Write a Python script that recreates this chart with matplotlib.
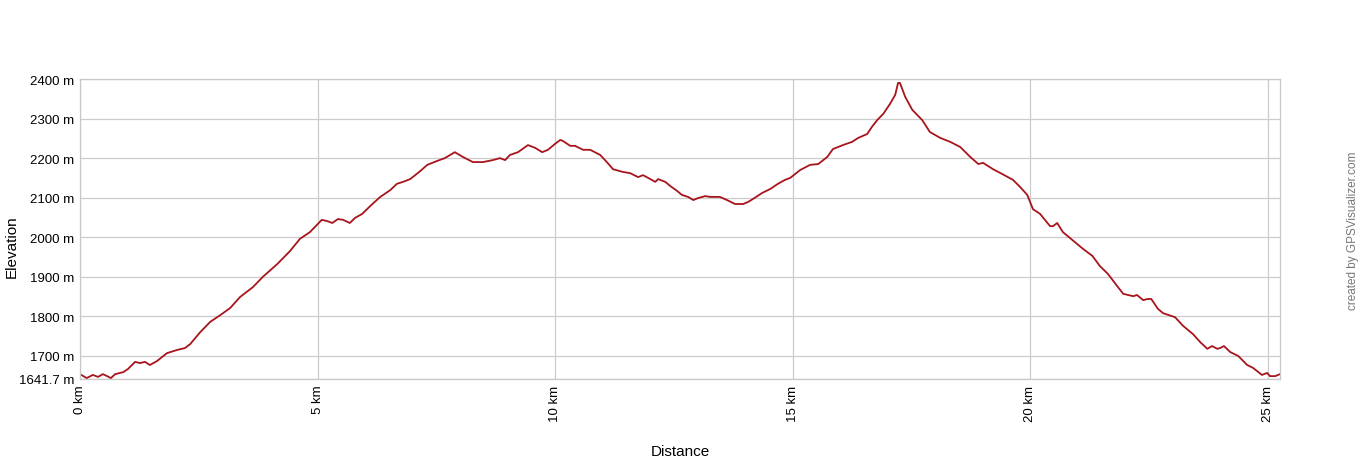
import matplotlib
matplotlib.use("Agg")
import matplotlib.pyplot as plt

# Elevation profile (distance in km, elevation in m)
distance_km = [
    0.00, 0.14, 0.27, 0.38, 0.48, 0.57, 0.65, 0.74, 0.91, 1.01,
    1.16, 1.26, 1.37, 1.47, 1.62, 1.83, 2.04, 2.21, 2.32, 2.53,
    2.74, 2.95, 3.16, 3.37, 3.64, 3.85, 4.15, 4.42, 4.63, 4.84,
    5.09, 5.20, 5.31, 5.43, 5.54, 5.68, 5.79, 5.94, 6.11, 6.32,
    6.53, 6.67, 6.80, 6.95, 7.16, 7.31, 7.52, 7.68, 7.89, 8.06,
    8.27, 8.48, 8.69, 8.84, 8.95, 9.05, 9.22, 9.43, 9.58, 9.73,
    9.85, 10.00, 10.11, 10.17, 10.32, 10.42, 10.59, 10.74, 10.95, 11.09,
    11.22, 11.43, 11.58, 11.75, 11.85, 11.96, 12.11, 12.17, 12.32, 12.42,
    12.57, 12.67, 12.80, 12.91, 13.01, 13.16, 13.26, 13.47, 13.62, 13.79,
    13.96, 14.06, 14.17, 14.36, 14.53, 14.69, 14.84, 14.95, 15.16, 15.37,
    15.54, 15.73, 15.85, 16.06, 16.25, 16.38, 16.57, 16.67, 16.78, 16.91,
    17.05, 17.16, 17.22, 17.26, 17.37, 17.52, 17.73, 17.89, 18.11, 18.32,
    18.53, 18.74, 18.91, 19.01, 19.22, 19.41, 19.64, 19.79, 19.94, 20.06,
    20.21, 20.42, 20.48, 20.57, 20.69, 20.91, 21.12, 21.31, 21.47, 21.64,
    21.83, 21.96, 22.17, 22.25, 22.38, 22.48, 22.55, 22.69, 22.80, 23.05,
    23.22, 23.43, 23.58, 23.73, 23.83, 23.94, 24.00, 24.08, 24.21, 24.38,
    24.57, 24.69, 24.88, 24.99, 25.05, 25.16, 25.26,
]
elevation_m = [
    1654, 1644, 1652, 1647, 1654, 1649, 1644, 1654, 1659, 1667,
    1685, 1682, 1685, 1677, 1687, 1707, 1715, 1720, 1730, 1760,
    1786, 1803, 1821, 1849, 1874, 1900, 1932, 1965, 1996, 2013,
    2044, 2041, 2036, 2046, 2044, 2036, 2049, 2059, 2079, 2102,
    2119, 2135, 2140, 2147, 2167, 2183, 2193, 2200, 2215, 2203,
    2190, 2190, 2195, 2200, 2195, 2208, 2215, 2233, 2226, 2215,
    2221, 2236, 2246, 2243, 2231, 2231, 2221, 2221, 2208, 2190,
    2172, 2165, 2162, 2152, 2157, 2150, 2140, 2147, 2140, 2130,
    2117, 2107, 2102, 2094, 2099, 2104, 2102, 2102, 2094, 2084,
    2084, 2089, 2097, 2112, 2122, 2135, 2145, 2150, 2170, 2183,
    2185, 2203, 2223, 2233, 2241, 2251, 2261, 2279, 2296, 2312,
    2337, 2360, 2390, 2390, 2355, 2322, 2296, 2266, 2251, 2241,
    2228, 2203, 2185, 2188, 2172, 2160, 2145, 2127, 2107, 2071,
    2059, 2028, 2028, 2036, 2013, 1991, 1970, 1953, 1927, 1907,
    1877, 1857, 1851, 1854, 1841, 1844, 1844, 1819, 1808, 1798,
    1776, 1755, 1735, 1718, 1725, 1718, 1720, 1725, 1710, 1700,
    1677, 1670, 1652, 1657, 1649, 1649, 1654,
]

x_ticks = [0, 5, 10, 15, 20, 25]
x_tick_labels = ["0 km", "5 km", "10 km", "15 km", "20 km", "25 km"]
y_ticks = [1641.7, 1700, 1800, 1900, 2000, 2100, 2200, 2300, 2400]
y_tick_labels = ["1641.7 m", "1700 m", "1800 m", "1900 m", "2000 m",
                 "2100 m", "2200 m", "2300 m", "2400 m"]

plt.rcParams["font.family"] = ["Liberation Sans", "DejaVu Sans"]

fig = plt.figure(figsize=(13.6, 4.6), dpi=100)
ax = fig.add_axes([80 / 1360, 80 / 460, 1200 / 1360, 300 / 460])

ax.plot(distance_km, elevation_m, color="#a8141c", linewidth=1.3)

ax.set_xlim(0, 25.26)
ax.set_ylim(1641.7, 2400)
ax.set_xticks(x_ticks)
ax.set_xticklabels(x_tick_labels, rotation=90, va="top", ha="center")
ax.set_yticks(y_ticks)
ax.set_yticklabels(y_tick_labels)
ax.tick_params(axis="both", length=0, labelsize=9.5, colors="black")
ax.tick_params(axis="x", pad=4)
ax.tick_params(axis="y", pad=4)

ax.grid(True, color="#cccccc", linewidth=0.9)
ax.set_axisbelow(True)
for spine in ax.spines.values():
    spine.set_color("#c8c8c8")
    spine.set_linewidth(0.9)

fig.text(680 / 1360, 1 - 452 / 460, "Distance", ha="center", va="center", fontsize=11)
fig.text(12 / 1360, 1 - 247 / 460, "Elevation", ha="center", va="center",
         rotation=90, fontsize=11)
fig.text(1353 / 1360, 1 - 231 / 460, "created by GPSVisualizer.com", ha="center",
         va="center", rotation=90, fontsize=8.5, color="#777777")

fig.savefig("out.png", dpi=100)
